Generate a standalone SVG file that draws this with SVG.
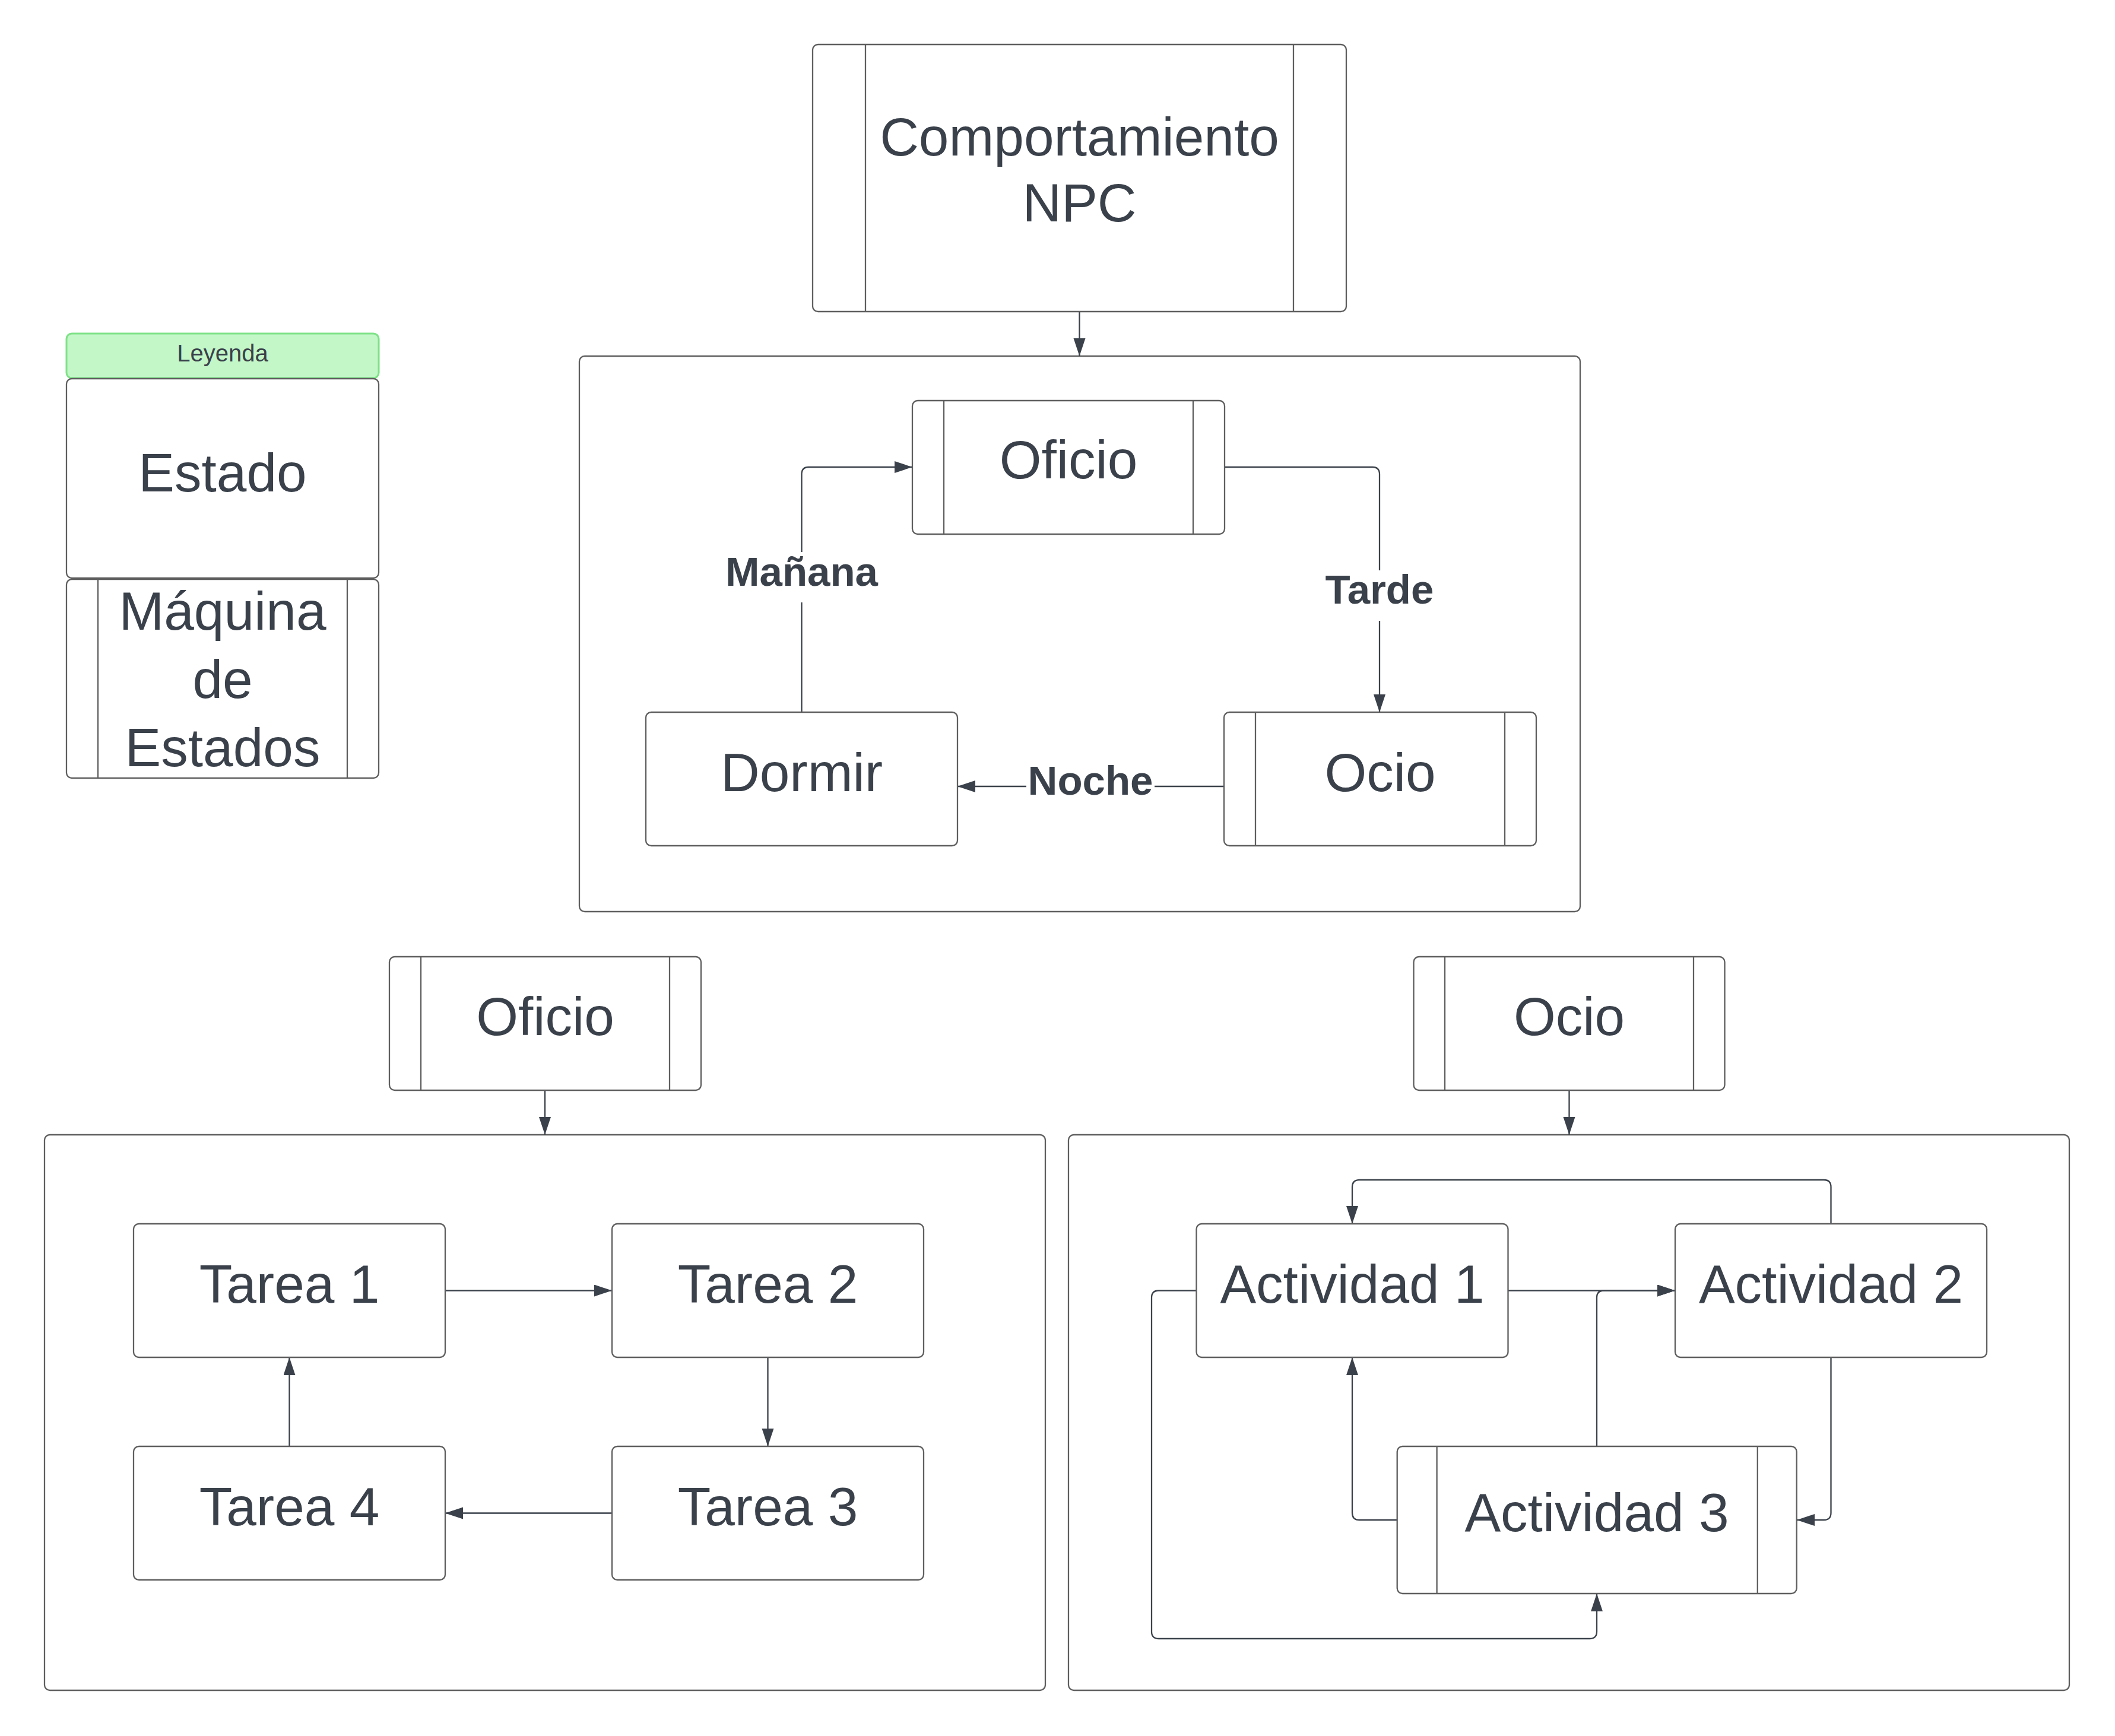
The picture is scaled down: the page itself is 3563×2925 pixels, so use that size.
<svg xmlns="http://www.w3.org/2000/svg" width="3563" height="2925" viewBox="0 0 3563 2925">
<style>
.box{fill:#ffffff;stroke:#5e5e5e;stroke-width:2.3}
.stripe{fill:none;stroke:#5e5e5e;stroke-width:2.3}
.t{font-family:"Liberation Sans",Arial,sans-serif;font-size:91px;fill:#3a414a;text-anchor:middle}
.lbl{font-family:"Liberation Sans",Arial,sans-serif;font-size:69px;font-weight:bold;fill:#3a414a;text-anchor:middle}
.con{fill:none;stroke:#3a414a;stroke-width:2.3}
.arr{marker-end:url(#ah)}
.bg{fill:#ffffff;stroke:none}
</style>
<defs>
<marker id="ah" markerUnits="userSpaceOnUse" markerWidth="31" markerHeight="21" refX="30" refY="10" orient="auto">
<path d="M0,0 L30,10 L0,20 Z" fill="#3a414a"/>
</marker>
</defs>
<rect width="3563" height="2925" fill="#ffffff"/>

<g id="containers">
<rect id="container-npc" class="box" x="976" y="600" width="1686" height="936" rx="9"/>
<rect id="container-oficio" class="box" x="75" y="1912" width="1686" height="936" rx="9"/>
<rect id="container-ocio" class="box" x="1800" y="1912" width="1686" height="936" rx="9"/>
</g>

<g id="connectors">
<path class="con arr" d="M1818.5,525 V600"/>
<path class="con arr" d="M2063,787 H2312 Q2324,787 2324,799 V1200"/>
<path class="con arr" d="M2062,1325 H1613"/>
<path class="con arr" d="M1350.5,1200 V799 Q1350.5,787 1362.5,787 H1537"/>
<path class="con arr" d="M918,1837 V1912"/>
<path class="con arr" d="M2643.5,1837 V1912"/>
<path class="con arr" d="M750,2174.5 H1031"/>
<path class="con arr" d="M1293.5,2287 V2437"/>
<path class="con arr" d="M1031,2549.5 H750"/>
<path class="con arr" d="M487.5,2437 V2287"/>
<path class="con arr" d="M2540.5,2174.5 H2822"/>
<path class="con arr" d="M2690,2437 V2186.5 Q2690,2174.5 2702,2174.5 H2822"/>
<path class="con arr" d="M3084.5,2287 V2549 Q3084.5,2561 3072.5,2561 H3027"/>
<path class="con arr" d="M2353.7,2561 H2290 Q2278,2561 2278,2549 V2287"/>
<path class="con arr" d="M2015.5,2174.5 H1952 Q1940,2174.5 1940,2186.5 V2749 Q1940,2761 1952,2761 H2678 Q2690,2761 2690,2749 V2685"/>
<path class="con arr" d="M3084.5,2062 V2000 Q3084.5,1988 3072.5,1988 H2290 Q2278,1988 2278,2000 V2062"/>
<rect class="bg" x="1220" y="930" width="261" height="85"/>
<text class="lbl" x="1350.5" y="987">Mañana</text>
<rect class="bg" x="2226" y="961" width="196" height="85"/>
<text class="lbl" x="2324" y="1017">Tarde</text>
<rect class="bg" x="1729" y="1280" width="216" height="80"/>
<text class="lbl" x="1837" y="1339">Noche</text>
</g>

<g id="node-comportamiento">
<rect class="box" x="1369" y="75" width="899" height="450" rx="9"/>
<line class="stripe" x1="1458" y1="75" x2="1458" y2="525"/>
<line class="stripe" x1="2179" y1="75" x2="2179" y2="525"/>
<text class="t" x="1818.5" y="262">Comportamiento</text>
<text class="t" x="1818.5" y="373">NPC</text>
</g>

<g id="legend-header">
<rect x="112" y="562" width="526" height="75" rx="9" fill="#c3f7c8" stroke="#7ee287" stroke-width="3"/>
<text x="375" y="609" font-family="'Liberation Sans',Arial,sans-serif" font-size="40" fill="#3a414a" text-anchor="middle">Leyenda</text>
</g>
<g id="legend-estado">
<rect class="box" x="112" y="638" width="526" height="336" rx="9"/>
<text class="t" x="375" y="828">Estado</text>
</g>
<g id="legend-maquina">
<rect class="box" x="112" y="976" width="526" height="335" rx="9"/>
<line class="stripe" x1="165" y1="976" x2="165" y2="1311"/>
<line class="stripe" x1="585" y1="976" x2="585" y2="1311"/>
<text class="t" x="375" y="1061">Máquina</text>
<text class="t" x="375" y="1176">de</text>
<text class="t" x="375" y="1291">Estados</text>
</g>

<g id="node-oficio-top">
<rect class="box" x="1537" y="675" width="526" height="225" rx="9"/>
<line class="stripe" x1="1590" y1="675" x2="1590" y2="900"/>
<line class="stripe" x1="2010" y1="675" x2="2010" y2="900"/>
<text class="t" x="1800" y="806">Oficio</text>
</g>
<g id="node-dormir">
<rect class="box" x="1088" y="1200" width="525" height="225" rx="9"/>
<text class="t" x="1350.5" y="1333">Dormir</text>
</g>
<g id="node-ocio-top">
<rect class="box" x="2062" y="1200" width="526" height="225" rx="9"/>
<line class="stripe" x1="2115" y1="1200" x2="2115" y2="1425"/>
<line class="stripe" x1="2535" y1="1200" x2="2535" y2="1425"/>
<text class="t" x="2325" y="1333">Ocio</text>
</g>

<g id="node-oficio">
<rect class="box" x="656" y="1612" width="525" height="225" rx="9"/>
<line class="stripe" x1="709" y1="1612" x2="709" y2="1837"/>
<line class="stripe" x1="1128" y1="1612" x2="1128" y2="1837"/>
<text class="t" x="918.5" y="1744">Oficio</text>
</g>
<g id="node-ocio">
<rect class="box" x="2381.5" y="1612" width="524" height="225" rx="9"/>
<line class="stripe" x1="2434" y1="1612" x2="2434" y2="1837"/>
<line class="stripe" x1="2853" y1="1612" x2="2853" y2="1837"/>
<text class="t" x="2643.5" y="1744">Ocio</text>
</g>

<g id="node-tarea1">
<rect class="box" x="225" y="2062" width="525" height="225" rx="9"/>
<text class="t" x="487.5" y="2195">Tarea 1</text>
</g>
<g id="node-tarea2">
<rect class="box" x="1031" y="2062" width="525" height="225" rx="9"/>
<text class="t" x="1293.5" y="2195">Tarea 2</text>
</g>
<g id="node-tarea3">
<rect class="box" x="1031" y="2437" width="525" height="225" rx="9"/>
<text class="t" x="1293.5" y="2570">Tarea 3</text>
</g>
<g id="node-tarea4">
<rect class="box" x="225" y="2437" width="525" height="225" rx="9"/>
<text class="t" x="487.5" y="2570">Tarea 4</text>
</g>

<g id="node-actividad1">
<rect class="box" x="2015.5" y="2062" width="525" height="225" rx="9"/>
<text class="t" x="2278" y="2195">Actividad 1</text>
</g>
<g id="node-actividad2">
<rect class="box" x="2822" y="2062" width="525" height="225" rx="9"/>
<text class="t" x="3084.5" y="2195">Actividad 2</text>
</g>
<g id="node-actividad3">
<rect class="box" x="2353.7" y="2437" width="673" height="248" rx="9"/>
<line class="stripe" x1="2420.6" y1="2437" x2="2420.6" y2="2685"/>
<line class="stripe" x1="2960.8" y1="2437" x2="2960.8" y2="2685"/>
<text class="t" x="2690" y="2580">Actividad 3</text>
</g>
</svg>
